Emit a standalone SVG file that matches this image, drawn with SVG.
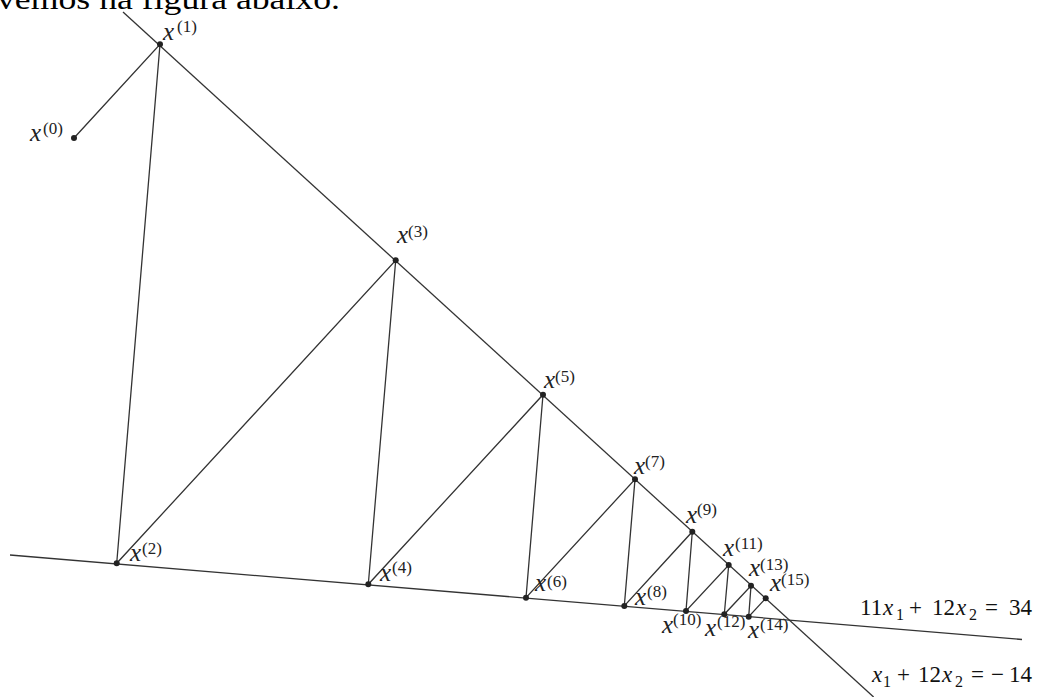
<svg xmlns="http://www.w3.org/2000/svg" width="1041" height="697" viewBox="0 0 1041 697">
<style>
  .ln { stroke: #333; stroke-width: 1.3; fill: none; }
  .pt { fill: #222; }
  .lbl { font-family: "Liberation Serif", "DejaVu Serif", serif; fill: #222; }
  .v { font-style: italic; font-size: 25px; }
  .s { font-size: 17px; }
  .eq { font-family: "Liberation Serif", "DejaVu Serif", serif; fill: #111; font-size: 23px; }
  .eqv { font-style: italic; }
  .sub { font-size: 16px; }
  .hdr { font-family: "Liberation Serif", "DejaVu Serif", serif; font-size: 30px; fill: #000; }
</style>
<rect width="1041" height="697" fill="#fff"/>
<text class="hdr" x="-3" y="9" textLength="343" lengthAdjust="spacingAndGlyphs">vemos na figura abaixo.</text>

<g id="connectors">
  <line id="line-upper" class="ln" x1="123" y1="12" x2="873.6" y2="697"/>
  <line id="line-lower" class="ln" x1="10" y1="555" x2="1022" y2="639.5"/>
  <polyline id="path" class="ln" points="74,138 160,44.3 116.7,563.3 395.7,260.3 368.3,584.3 543,394.7 526,597.7 635,479.3 624.3,605.9 692.3,531.7 686,611 728.7,565 724.3,614.3 751,585.7 748.7,616.7 765.7,598.3"/>
</g>

<g id="p0"><circle class="pt" cx="74" cy="138" r="3"/><text class="lbl"><tspan class="v" x="30" y="141">x</tspan><tspan class="s" x="43" y="134">(0)</tspan></text></g>
<g id="p1"><circle class="pt" cx="160" cy="44.3" r="3"/><text class="lbl"><tspan class="v" x="163" y="40">x</tspan><tspan class="s" x="177" y="32">(1)</tspan></text></g>
<g id="p2"><circle class="pt" cx="116.7" cy="563.3" r="3"/><text class="lbl"><tspan class="v" x="130" y="561">x</tspan><tspan class="s" x="142" y="554">(2)</tspan></text></g>
<g id="p3"><circle class="pt" cx="395.7" cy="260.3" r="3"/><text class="lbl"><tspan class="v" x="397" y="243">x</tspan><tspan class="s" x="408" y="237">(3)</tspan></text></g>
<g id="p4"><circle class="pt" cx="368.3" cy="584.3" r="3"/><text class="lbl"><tspan class="v" x="380" y="581">x</tspan><tspan class="s" x="392" y="573">(4)</tspan></text></g>
<g id="p5"><circle class="pt" cx="543" cy="394.7" r="3"/><text class="lbl"><tspan class="v" x="544" y="388">x</tspan><tspan class="s" x="555" y="382">(5)</tspan></text></g>
<g id="p6"><circle class="pt" cx="526" cy="597.7" r="3"/><text class="lbl"><tspan class="v" x="535" y="591">x</tspan><tspan class="s" x="547" y="587">(6)</tspan></text></g>
<g id="p7"><circle class="pt" cx="635" cy="479.3" r="3"/><text class="lbl"><tspan class="v" x="634" y="474">x</tspan><tspan class="s" x="645" y="467">(7)</tspan></text></g>
<g id="p8"><circle class="pt" cx="624.3" cy="605.9" r="3"/><text class="lbl"><tspan class="v" x="635" y="605">x</tspan><tspan class="s" x="647" y="597">(8)</tspan></text></g>
<g id="p9"><circle class="pt" cx="692.3" cy="531.7" r="3"/><text class="lbl"><tspan class="v" x="686" y="523">x</tspan><tspan class="s" x="697" y="515">(9)</tspan></text></g>
<g id="p10"><circle class="pt" cx="686" cy="611" r="3"/><text class="lbl"><tspan class="v" x="662" y="633">x</tspan><tspan class="s" x="673" y="625">(10)</tspan></text></g>
<g id="p11"><circle class="pt" cx="728.7" cy="565" r="3"/><text class="lbl"><tspan class="v" x="723" y="556">x</tspan><tspan class="s" x="735" y="549">(11)</tspan></text></g>
<g id="p12"><circle class="pt" cx="724.3" cy="614.3" r="3"/><text class="lbl"><tspan class="v" x="705" y="636">x</tspan><tspan class="s" x="717" y="627">(12)</tspan></text></g>
<g id="p13"><circle class="pt" cx="751" cy="585.7" r="3"/><text class="lbl"><tspan class="v" x="749" y="576">x</tspan><tspan class="s" x="760" y="570">(13)</tspan></text></g>
<g id="p14"><circle class="pt" cx="748.7" cy="616.7" r="3"/><text class="lbl"><tspan class="v" x="748" y="638">x</tspan><tspan class="s" x="760" y="630">(14)</tspan></text></g>
<g id="p15"><circle class="pt" cx="765.7" cy="598.3" r="3"/><text class="lbl"><tspan class="v" x="770" y="591">x</tspan><tspan class="s" x="781" y="585">(15)</tspan></text></g>

<g id="eq1"><text class="eq"><tspan x="860" y="615">11</tspan><tspan class="eqv" x="883" y="615">x</tspan><tspan class="sub" x="896" y="620">1</tspan><tspan x="909" y="615">+</tspan><tspan x="932" y="615">12</tspan><tspan class="eqv" x="956" y="615">x</tspan><tspan class="sub" x="969" y="620">2</tspan><tspan x="985" y="615">=</tspan><tspan x="1009" y="615">34</tspan></text></g>
<g id="eq2"><text class="eq"><tspan class="eqv" x="872" y="682">x</tspan><tspan class="sub" x="883" y="687">1</tspan><tspan x="897" y="682">+</tspan><tspan x="918" y="682">12</tspan><tspan class="eqv" x="942" y="682">x</tspan><tspan class="sub" x="955" y="687">2</tspan><tspan x="971" y="682">=</tspan><tspan x="991" y="682">−</tspan><tspan x="1009" y="682">14</tspan></text></g>
</svg>
